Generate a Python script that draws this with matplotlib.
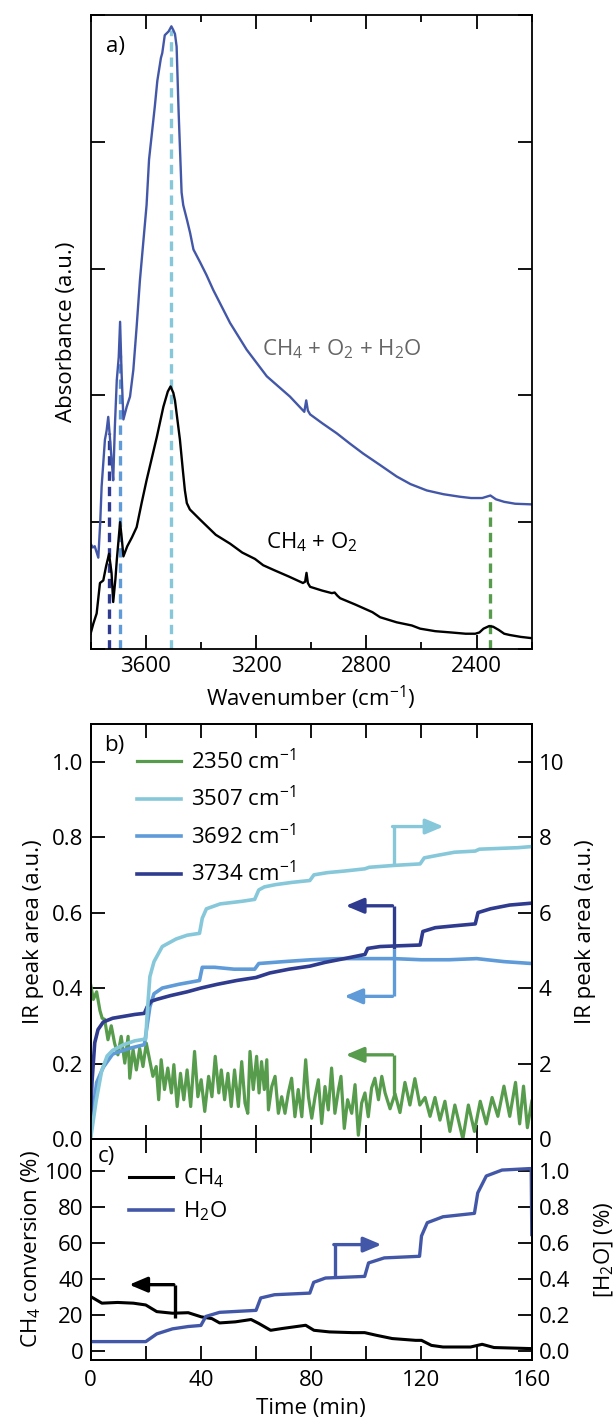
import numpy as np
import matplotlib
matplotlib.use("Agg")
import matplotlib.pyplot as plt
from matplotlib.ticker import MultipleLocator, FormatStrFormatter

plt.rcParams['font.family'] = ['Open Sans', 'DejaVu Sans']
plt.rcParams['mathtext.fontset'] = 'custom'
plt.rcParams['mathtext.rm'] = 'Open Sans'
plt.rcParams['mathtext.it'] = 'Open Sans:italic'
plt.rcParams['font.size'] = 16
plt.rcParams['axes.linewidth'] = 1.3

#%% panel a: IR spectra (wavenumber, absorbance)
wn_o2 = [3800, 3790, 3778, 3766, 3754, 3744, 3733, 3724, 3718, 3710, 3705, 3693, 3686,
         3681, 3667, 3650, 3633, 3615, 3597, 3560, 3536, 3520, 3510, 3500, 3494, 3476,
         3465, 3458, 3451, 3440, 3403, 3346, 3294, 3250, 3204, 3174, 3133, 3080, 3030,
         3022, 3017, 3012, 3004, 2960, 2925, 2915, 2905, 2895, 2840, 2778, 2750, 2690,
         2635, 2605, 2550, 2493, 2440, 2405, 2390, 2375, 2355, 2340, 2320, 2300, 2280,
         2240, 2200]
abs_o2 = [0.12, 0.20, 0.28, 0.52, 0.54, 0.65, 0.75, 0.60, 0.37, 0.55, 0.70, 1.00, 0.85,
          0.73, 0.81, 0.88, 0.96, 1.15, 1.33, 1.67, 1.91, 2.03, 2.07, 2.02, 1.96, 1.65,
          1.40, 1.25, 1.15, 1.10, 1.02, 0.90, 0.83, 0.76, 0.71, 0.66, 0.62, 0.57, 0.52,
          0.53, 0.60, 0.52, 0.49, 0.46, 0.44, 0.445, 0.42, 0.40, 0.35, 0.29, 0.25, 0.21,
          0.185, 0.16, 0.14, 0.13, 0.12, 0.12, 0.13, 0.16, 0.18, 0.175, 0.15, 0.12, 0.11,
          0.095, 0.085]

wn_h2o = [3800, 3792, 3785, 3772, 3765, 3760, 3748, 3742, 3736, 3730, 3724, 3718, 3712,
          3705, 3698, 3693, 3688, 3681, 3669, 3657, 3645, 3633, 3621, 3597, 3588, 3567,
          3558, 3545, 3540, 3531, 3517, 3507, 3500, 3494, 3488, 3481, 3470, 3464, 3450,
          3439, 3427, 3403, 3380, 3355, 3294, 3234, 3161, 3077, 3025, 3018, 3012, 3004,
          2960, 2907, 2860, 2811, 2750, 2690, 2640, 2581, 2520, 2460, 2420, 2380, 2350,
          2330, 2300, 2260, 2200]
abs_h2o = [0.83, 0.80, 0.81, 0.72, 1.00, 1.28, 1.65, 1.72, 1.83, 1.67, 1.50, 1.33, 1.75,
           2.12, 2.30, 2.58, 2.20, 1.81, 1.91, 1.99, 2.20, 2.54, 2.91, 3.50, 3.86, 4.28,
           4.48, 4.66, 4.70, 4.84, 4.87, 4.91, 4.88, 4.85, 4.75, 4.25, 3.60, 3.50, 3.38,
           3.28, 3.15, 3.05, 2.95, 2.83, 2.57, 2.36, 2.15, 1.99, 1.87, 1.96, 1.88, 1.85,
           1.78, 1.70, 1.62, 1.54, 1.45, 1.36, 1.30, 1.25, 1.22, 1.20, 1.19, 1.19, 1.21,
           1.18, 1.16, 1.145, 1.14]

peak_wn = [3734, 3692, 3507, 2350]
peak_top = [1.70, 2.32, 4.88, 1.20]
peak_col = ['#2e3b8e', '#5f9bd8', '#86c8da', '#579c4c']

#%% panel b: IR peak areas vs time
t_3507 = [0, 1, 2, 4, 6, 8, 12, 16, 20, 20.5, 21.5, 23, 26, 31, 35, 39.5, 40.5, 42, 47,
          55, 59.5, 61, 63, 67, 73, 79.5, 81, 86, 92, 99.5, 101, 110, 119.5, 121, 126,
          132, 139.5, 141, 148, 155, 160]
a_3507 = [0.0, 0.5, 1.0, 1.8, 2.2, 2.35, 2.5, 2.6, 2.65, 3.3, 4.3, 4.7, 5.1, 5.3, 5.4,
          5.45, 5.85, 6.1, 6.23, 6.3, 6.35, 6.6, 6.68, 6.74, 6.8, 6.85, 7.0, 7.06, 7.1,
          7.16, 7.2, 7.25, 7.29, 7.45, 7.52, 7.6, 7.63, 7.68, 7.7, 7.72, 7.75]

t_3734 = [0, 0.5, 1.5, 2.7, 4.6, 8, 12, 16, 19.5, 20.5, 22, 24, 29, 35, 40, 46, 53, 60,
          65, 72, 79.5, 85, 92, 99.5, 100.5, 105, 112, 119.5, 120.5, 125, 132, 139.5,
          140.5, 145, 152, 160]
a_3734 = [0.06, 0.15, 0.255, 0.29, 0.31, 0.32, 0.325, 0.33, 0.333, 0.35, 0.365, 0.37,
          0.38, 0.39, 0.40, 0.41, 0.42, 0.428, 0.44, 0.45, 0.458, 0.468, 0.478, 0.489,
          0.505, 0.51, 0.512, 0.514, 0.55, 0.56, 0.565, 0.57, 0.60, 0.61, 0.62, 0.625]

t_3692 = [0, 1, 2.2, 4.6, 8, 14, 19.5, 20.5, 21.5, 23, 26, 32, 39.5, 40.5, 45, 52, 59.5,
          61, 70, 80, 90, 100, 110, 120, 130, 140, 150, 160]
a_3692 = [0.01, 0.08, 0.15, 0.19, 0.225, 0.24, 0.25, 0.30, 0.35, 0.385, 0.40, 0.41, 0.42,
          0.455, 0.455, 0.45, 0.45, 0.465, 0.47, 0.475, 0.478, 0.478, 0.478, 0.475, 0.475,
          0.478, 0.47, 0.465]

t_2350 = [0, 1, 2.2, 3.4, 4.2, 5.1, 6.3, 7.5, 8.7, 9.9, 11.1, 12.4, 13.6, 14.2, 15.4,
          16.6, 17.8, 19, 20.2, 21.4, 22.6, 23.8, 24.7, 25.6, 26.8, 28, 29.3, 30.2, 31.4,
          32.6, 33.8, 35, 36.3, 37.7, 38.9, 40.1, 41.4, 42.8, 44, 45.2, 46.5, 47.4, 48.6,
          49.8, 51, 52.2, 53.6, 54.8, 56, 57, 57.8, 59, 60.2, 61.1, 62, 63, 63.9, 64.5,
          65.7, 66.9, 68.1, 69.3, 70.5, 71.7, 72.9, 74.1, 75.3, 76.6, 78, 79, 80.2, 81.4,
          82.6, 83.8, 85, 86.2, 87.4, 88.6, 89.9, 90.8, 92, 93.2, 94.7, 95.9, 97.1, 98.3,
          99.5, 100.7, 101.9, 103.1, 104.4, 105.6, 106.8, 108.6, 110.4, 112.2, 114, 115.8,
          117.6, 119.4, 121.3, 123.1, 124.9, 126.7, 128.5, 130.3, 132.1, 135, 137, 139.2,
          141.3, 143.5, 145.6, 147.7, 149.9, 152, 154.1, 155.6, 157, 158.4, 160]
a_2350 = [0.41, 0.37, 0.39, 0.34, 0.32, 0.317, 0.263, 0.30, 0.254, 0.223, 0.272, 0.201,
          0.272, 0.161, 0.237, 0.183, 0.24, 0.192, 0.254, 0.21, 0.166, 0.192, 0.104, 0.21,
          0.131, 0.188, 0.122, 0.197, 0.086, 0.174, 0.104, 0.183, 0.086, 0.232, 0.112,
          0.157, 0.073, 0.166, 0.112, 0.219, 0.122, 0.183, 0.104, 0.174, 0.086, 0.183,
          0.086, 0.205, 0.095, 0.068, 0.232, 0.131, 0.219, 0.122, 0.205, 0.131, 0.21,
          0.077, 0.139, 0.166, 0.068, 0.112, 0.068, 0.122, 0.161, 0.059, 0.131, 0.059,
          0.21, 0.112, 0.055, 0.112, 0.157, 0.041, 0.139, 0.077, 0.188, 0.068, 0.131,
          0.166, 0.028, 0.104, 0.068, 0.144, 0.01, 0.095, 0.122, 0.059, 0.135, 0.161,
          0.104, 0.166, 0.122, 0.08, 0.12, 0.07, 0.15, 0.09, 0.16, 0.09, 0.11, 0.06, 0.11,
          0.05, 0.10, 0.02, 0.09, 0.00, 0.09, 0.02, 0.10, 0.04, 0.11, 0.06, 0.14, 0.06,
          0.15, 0.04, 0.14, 0.03, 0.10]

#%% panel c: CH4 conversion and H2O concentration
t_ch4 = [0, 4.1, 9.8, 15.5, 20, 24, 29.7, 35.4, 40.1, 44, 46.8, 52.5, 58.2, 61, 65.3,
         69.5, 78, 81, 86.6, 95, 99.4, 103.7, 109.4, 117.9, 120, 123.6, 127.8, 137.8, 142,
         146.3, 160]
conv_ch4 = [30.3, 26.6, 27, 26.6, 25.6, 21.9, 21, 21.3, 19, 18, 15.6, 16.2, 17.5, 15.3,
            11.5, 12.5, 14.3, 11.5, 10.6, 10.2, 10.2, 8.7, 6.9, 5.9, 5.9, 3.1, 2.2, 2.2,
            3.7, 1.9, 1.3]

t_h2o = [0, 20, 24, 29.7, 35.4, 40, 41.8, 46.8, 60, 61.7, 66.7, 79.5, 80.9, 85.2, 99.4,
         100.8, 106.5, 119.3, 120, 122.1, 127.8, 139.2, 140.4, 143.5, 149.2, 159.1,
         159.8, 160]
c_h2o = [0.052, 0.052, 0.095, 0.123, 0.136, 0.142, 0.192, 0.215, 0.226, 0.295, 0.313,
         0.322, 0.382, 0.406, 0.415, 0.49, 0.518, 0.527, 0.64, 0.714, 0.747, 0.766, 0.88,
         0.974, 1.007, 1.015, 1.015, 0.648]

c_blue = '#4357a8'
c_3507 = '#86c8da'
c_3692 = '#5f9bd8'
c_3734 = '#2e3b8e'
c_2350 = '#579c4c'


def style_ticks(ax, minor_len=5):
    ax.tick_params(which='major', direction='in', length=10, width=1.3,
                   top=True, right=True, pad=5)
    ax.tick_params(which='minor', direction='in', length=minor_len, width=1.3,
                   top=True, right=True)


def bracket_arrow(ax, x, y0, y1, x_end, color):
    ax.plot([x, x], [y0, y1], color=color, lw=2.4, solid_capstyle='butt')
    ax.annotate('', xy=(x_end, y1), xytext=(x - 0.5, y1),
                arrowprops=dict(arrowstyle='-|>,head_length=0.9,head_width=0.38',
                                color=color, lw=2.4, shrinkA=0, shrinkB=0,
                                mutation_scale=12))


fig = plt.figure(figsize=(6.15, 14.2), dpi=100)
left, width = 0.1473, 0.7174

#%% a)
ax1 = fig.add_axes([left, 0.5430, width, 0.4465])
for wn, top, col in zip(peak_wn, peak_top, peak_col):
    ax1.plot([wn, wn], [0, top], color=col, lw=2.4, ls=(0, (2.8, 1.8)))
ax1.plot(wn_o2, abs_o2, color='black', lw=1.7)
ax1.plot(wn_h2o, abs_h2o, color=c_blue, lw=1.7)
ax1.set_xlim(3800, 2200)
ax1.set_ylim(0, 5)
ax1.xaxis.set_major_locator(MultipleLocator(400))
ax1.xaxis.set_minor_locator(MultipleLocator(200))
ax1.yaxis.set_major_locator(MultipleLocator(1))
style_ticks(ax1)
ax1.tick_params(axis='y', labelleft=False)
ax1.set_xlabel('Wavenumber (cm$^{-1}$)', labelpad=5)
ax1.set_ylabel('Absorbance (a.u.)', labelpad=10)
ax1.text(0.035, 0.95, 'a)', transform=ax1.transAxes, va='center', ha='left')
ax1.text(3178, 2.36, 'CH$_4$ + O$_2$ + H$_2$O', color='#666666', va='center')
ax1.text(3164, 0.84, 'CH$_4$ + O$_2$', color='black', va='center')

#%% b)
ax2 = fig.add_axes([left, 0.1979, width, 0.2923])
ax2r = ax2.twinx()
ax2.plot(t_2350, a_2350, color=c_2350, lw=2.3, label='2350 cm$^{-1}$')
ax2.plot([], [], color=c_3507, lw=2.6, label='3507 cm$^{-1}$')
ax2.plot(t_3692, a_3692, color=c_3692, lw=2.6, label='3692 cm$^{-1}$')
ax2.plot(t_3734, a_3734, color=c_3734, lw=2.6, label='3734 cm$^{-1}$')
ax2r.plot(t_3507, a_3507, color=c_3507, lw=2.6)
ax2.set_xlim(0, 160)
ax2.set_ylim(0, 1.1)
ax2r.set_ylim(0, 11)
ax2.xaxis.set_major_locator(MultipleLocator(40))
ax2.xaxis.set_minor_locator(MultipleLocator(20))
ax2.yaxis.set_major_locator(MultipleLocator(0.2))
ax2.yaxis.set_major_formatter(FormatStrFormatter('%.1f'))
ax2r.yaxis.set_major_locator(MultipleLocator(2))
style_ticks(ax2, minor_len=10)
ax2.tick_params(right=False, labelbottom=False)
ax2r.tick_params(direction='in', length=10, width=1.3, pad=5)
ax2.set_ylabel('IR peak area (a.u.)', labelpad=6)
ax2r.set_ylabel('IR peak area (a.u.)', labelpad=8)
ax2.text(0.03, 0.949, 'b)', transform=ax2.transAxes, va='center', ha='left')
ax2.legend(loc='upper left', bbox_to_anchor=(0.105, 0.94), frameon=False,
           borderpad=0, borderaxespad=0, handlelength=2.0, handletextpad=0.45,
           labelspacing=0.55)
bracket_arrow(ax2r, 110, 7.29, 8.28, 128, c_3507)
bracket_arrow(ax2, 110, 0.503, 0.618, 92.5, c_3734)
bracket_arrow(ax2, 110, 0.503, 0.378, 92, c_3692)
bracket_arrow(ax2, 110, 0.12, 0.223, 92.5, c_2350)

#%% c)
ax3 = fig.add_axes([left, 0.0423, width, 0.1556])
ax3r = ax3.twinx()
ax3.plot(t_ch4, conv_ch4, color='black', lw=2.2, label='CH$_4$')
ax3.plot([], [], color=c_blue, lw=2.6, label='H$_2$O')
ax3r.plot(t_h2o, c_h2o, color=c_blue, lw=2.4)
ax3.set_xlim(0, 160)
ax3.set_ylim(-5, 118)
ax3r.set_ylim(-0.05, 1.18)
ax3.xaxis.set_major_locator(MultipleLocator(40))
ax3.xaxis.set_minor_locator(MultipleLocator(20))
ax3.yaxis.set_major_locator(MultipleLocator(20))
ax3r.yaxis.set_major_locator(MultipleLocator(0.2))
ax3r.yaxis.set_major_formatter(FormatStrFormatter('%.1f'))
style_ticks(ax3, minor_len=10)
ax3.tick_params(right=False)
ax3.tick_params(axis='x', pad=7)
ax3r.tick_params(direction='in', length=10, width=1.3, pad=5)
ax3.set_xlabel('Time (min)', labelpad=5)
ax3.set_ylabel('CH$_4$ conversion (%)', labelpad=2)
ax3r.set_ylabel('[H$_2$O] (%)', labelpad=16)
ax3.text(0.017, 0.92, 'c)', transform=ax3.transAxes, va='center', ha='left')
ax3.legend(loc='upper left', bbox_to_anchor=(0.087, 0.875), frameon=False,
           borderpad=0, borderaxespad=0, handlelength=2.0, handletextpad=0.45,
           labelspacing=0.42)
bracket_arrow(ax3, 30.7, 18.3, 36.9, 14, 'black')
bracket_arrow(ax3r, 88.7, 0.415, 0.592, 105.5, c_blue)

fig.savefig('out.png', dpi=100)
